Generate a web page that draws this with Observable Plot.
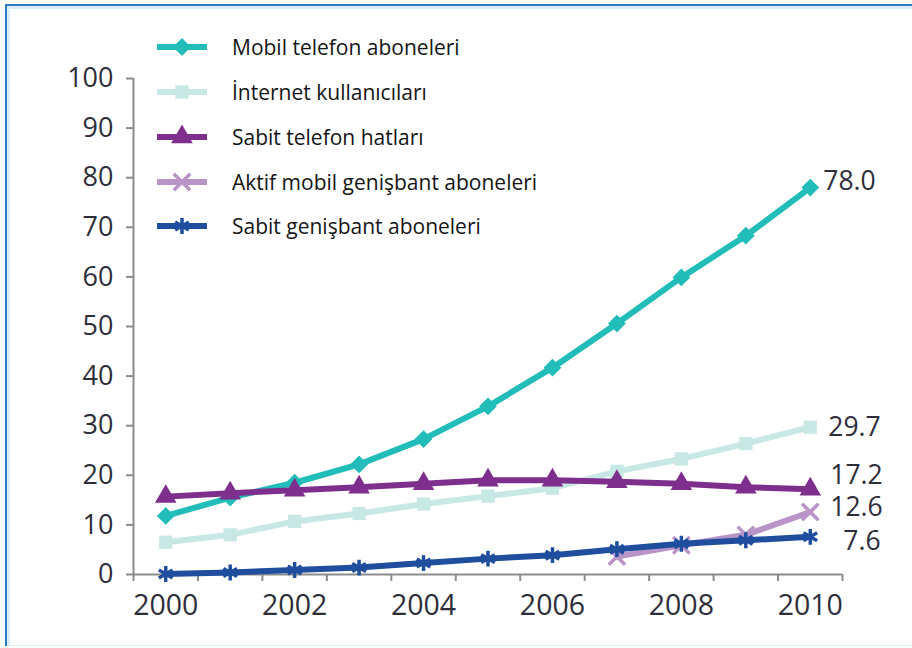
<!DOCTYPE html>
<html>
<head>
<meta charset="utf-8">
<script src="https://cdn.jsdelivr.net/npm/d3@7"></script>
<script src="https://cdn.jsdelivr.net/npm/@observablehq/plot@0.6"></script>
<style>
  html, body { margin: 0; padding: 0; background: #fff; }
  #wrap { position: relative; width: 912px; height: 648px; overflow: hidden; font-family: "Open Sans", sans-serif; }
  #frame { position: absolute; left: 5px; top: 4px; width: 920px; height: 640px;
           border-top: 2px solid #2a7bc4; border-left: 2px solid #2a7bc4;
           box-shadow: inset 3px 3px 0 #dcedf5; pointer-events: none; }
  #bottomline { position: absolute; left: 7px; top: 645px; width: 905px; height: 1px; background: #d6f0f3; }
  #chart { position: absolute; left: 0; top: 0; }
  .lg { position: absolute; left: 157px; height: 24px; display: flex; align-items: center; }
  .lg span { margin-left: 25px; font-size: 21px; color: #151515; white-space: nowrap; }
</style>
</head>
<body>
<div id="wrap">
  <div id="chart"></div>
  <div id="frame"></div>
  <div id="bottomline"></div>
</div>
<script>
// ---- data ----
const years = [2000, 2001, 2002, 2003, 2004, 2005, 2006, 2007, 2008, 2009, 2010];
const mobilTelefon = [11.8, 15.5, 18.5, 22.2, 27.3, 33.9, 41.7, 50.6, 59.9, 68.3, 78.0];
const internet = [6.5, 8.0, 10.7, 12.3, 14.2, 15.8, 17.4, 20.8, 23.3, 26.4, 29.7];
const sabitTelefon = [15.7, 16.4, 17.0, 17.6, 18.3, 19.0, 19.0, 18.7, 18.3, 17.6, 17.2];
const aktifMobil = [null, null, null, null, null, null, null, 3.6, 5.9, 8.0, 12.6];
const sabitGenisbant = [0.1, 0.4, 0.9, 1.4, 2.3, 3.2, 3.9, 5.1, 6.2, 6.9, 7.6];
const seriesNames = ["Mobil telefon aboneleri", "İnternet kullanıcıları", "Sabit telefon hatları", "Aktif mobil genişbant aboneleri", "Sabit genişbant aboneleri"];
const seriesColors = ["#22bdb9", "#c8e8e5", "#7e2f8e", "#b894c9", "#1f4e9f"];
const seriesSymbols = ["diamond2", "square", "triangle", "times", "asterisk"];
const endLabels = ["78.0", "29.7", "17.2", "12.6", "7.6"];
const yTicks = [0, 10, 20, 30, 40, 50, 60, 70, 80, 90, 100];
const xTickLabels = [2000, 2002, 2004, 2006, 2008, 2010];

const seriesValues = [mobilTelefon, internet, sabitTelefon, aktifMobil, sabitGenisbant];
const boundaries = years.map(y => y - 0.5).concat([years[years.length - 1] + 0.5]);

const symbolFns = {diamond2: d3.symbolDiamond2, square: d3.symbolSquare, triangle: d3.symbolTriangle, times: d3.symbolTimes, asterisk: d3.symbolAsterisk};
const strokeSymbols = new Set(["times", "asterisk"]);
const markerR = [8, 7.5, 8, 7.5, 7.5];

// ---- marks ----
const marks = [];
marks.push(Plot.axisY({ticks: yTicks, tickSize: 7, text: null, label: null, color: "#8c8c8c", strokeWidth: 2}));
marks.push(Plot.axisY({ticks: yTicks, tickSize: 0, tickPadding: 20, fontSize: 27, label: null, color: "#2e2e3a", tickFormat: d => String(d)}));
marks.push(Plot.axisX({ticks: boundaries, tickSize: 7, text: null, label: null, color: "#8c8c8c", strokeWidth: 2}));
marks.push(Plot.axisX({ticks: xTickLabels, tickSize: 0, tickPadding: 20, fontSize: 28.5, label: null, color: "#2e2e3a", tickFormat: d => String(d)}));
marks.push(Plot.ruleX([boundaries[0]], {y1: 0, y2: 100, stroke: "#8c8c8c", strokeWidth: 2}));
marks.push(Plot.ruleY([0], {x1: boundaries[0], x2: boundaries[boundaries.length - 1], stroke: "#8c8c8c", strokeWidth: 2}));

seriesValues.forEach((vals, i) => {
  const rows = years.map((yr, j) => ({year: yr, value: vals[j]})).filter(d => d.value != null);
  const col = seriesColors[i];
  marks.push(Plot.line(rows, {x: "year", y: "value", stroke: col, strokeWidth: 6, strokeLinejoin: "round"}));
  if (strokeSymbols.has(seriesSymbols[i])) {
    marks.push(Plot.dot(rows, {x: "year", y: "value", symbol: seriesSymbols[i], r: markerR[i], stroke: col, strokeWidth: 3.5, fill: "none"}));
  } else {
    marks.push(Plot.dot(rows, {x: "year", y: "value", symbol: seriesSymbols[i], r: markerR[i], fill: col, stroke: "none"}));
  }
});

// end labels
const labelDx = [13, 18, 20, 20, 33];
const labelDy = [-6, 0, -14, -4, 5];
seriesValues.forEach((vals, i) => {
  const last = years.length - 1;
  marks.push(Plot.text([{year: years[last], value: vals[last], t: endLabels[i]}], {
    x: "year", y: "value", text: "t", dx: labelDx[i], dy: labelDy[i],
    textAnchor: "start", fontSize: 26.5, fill: "#2e2e3a"
  }));
});

const chart = Plot.plot({
  width: 912,
  height: 648,
  marginLeft: 133,
  marginRight: 70,
  marginTop: 78,
  marginBottom: 74,
  style: {fontFamily: "'Open Sans', sans-serif", background: "transparent"},
  x: {type: "linear", domain: [boundaries[0], boundaries[boundaries.length - 1]], axis: null, label: null},
  y: {domain: [0, 100], axis: null, label: null},
  marks
});
document.getElementById("chart").appendChild(chart);

// ---- legend (HTML overlay) ----
const wrap = document.getElementById("wrap");
const rowTops = [35, 80, 125, 170, 214];
seriesNames.forEach((name, i) => {
  const row = document.createElement("div");
  row.className = "lg";
  row.style.top = rowTops[i] + "px";
  const ns = "http://www.w3.org/2000/svg";
  const svg = document.createElementNS(ns, "svg");
  svg.setAttribute("width", 50);
  svg.setAttribute("height", 24);
  const ln = document.createElementNS(ns, "line");
  ln.setAttribute("x1", 1); ln.setAttribute("x2", 49);
  ln.setAttribute("y1", 12); ln.setAttribute("y2", 12);
  ln.setAttribute("stroke", seriesColors[i]);
  ln.setAttribute("stroke-width", 6);
  ln.setAttribute("stroke-linecap", "round");
  svg.appendChild(ln);
  const p = document.createElementNS(ns, "path");
  const r = markerR[i];
  p.setAttribute("d", d3.symbol(symbolFns[seriesSymbols[i]], Math.PI * r * r)());
  p.setAttribute("transform", "translate(25,12)");
  if (strokeSymbols.has(seriesSymbols[i])) {
    p.setAttribute("fill", "none"); p.setAttribute("stroke", seriesColors[i]); p.setAttribute("stroke-width", 3.5);
  } else {
    p.setAttribute("fill", seriesColors[i]);
  }
  svg.appendChild(p);
  row.appendChild(svg);
  const sp = document.createElement("span");
  sp.textContent = name;
  row.appendChild(sp);
  wrap.appendChild(row);
});
</script>
</body>
</html>
